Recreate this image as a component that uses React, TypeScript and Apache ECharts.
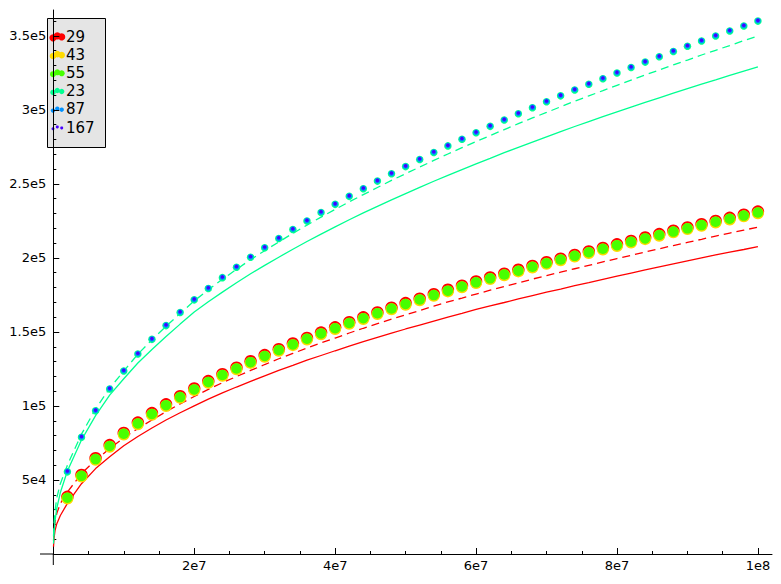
import React, { useEffect, useRef } from 'react';
import * as echarts from 'echarts';

// ---------- data ----------
const seriesNames = ['29', '43', '55', '23', '87', '167'];
const seriesColors = ['#ff0000', '#ffda00', '#48ff00', '#00ff91', '#0091ff', '#4800ff'];

// sample positions (in millions)
const sampleXMillions = [
  2, 4, 6, 8, 10, 12, 14, 16, 18, 20, 22, 24, 26, 28, 30, 32, 34, 36, 38, 40,
  42, 44, 46, 48, 50, 52, 54, 56, 58, 60, 62, 64, 66, 68, 70, 72, 74, 76, 78, 80,
  82, 84, 86, 88, 90, 92, 94, 96, 98, 100,
];

const counts29 = [
  38600, 53400, 64700, 73600, 81800, 88800, 95200, 101100, 106600, 111800,
  116800, 121500, 125900, 130200, 134400, 138400, 142200, 146000, 149600, 153100,
  156600, 159900, 163200, 166400, 169500, 172500, 175500, 178500, 181300, 184100,
  186800, 189400, 192000, 194600, 197100, 199500, 202000, 204400, 206800, 209200,
  211500, 213800, 216100, 218400, 220600, 222800, 225000, 227100, 229200, 231300,
];
const counts43 = [
  37500, 52300, 63600, 72500, 80700, 87700, 94100, 100000, 105500, 110700,
  115700, 120400, 124800, 129100, 133300, 137300, 141100, 144900, 148500, 152000,
  155500, 158800, 162100, 165300, 168400, 171400, 174400, 177400, 180200, 183000,
  185700, 188300, 190900, 193500, 196000, 198400, 200900, 203300, 205700, 208100,
  210400, 212700, 215000, 217300, 219500, 221700, 223900, 226000, 228100, 230200,
];
const counts55 = [
  38000, 52800, 64100, 73000, 81200, 88200, 94600, 100500, 106000, 111200,
  116200, 120900, 125300, 129600, 133800, 137800, 141600, 145400, 149000, 152500,
  156000, 159300, 162600, 165800, 168900, 171900, 174900, 177900, 180700, 183500,
  186200, 188800, 191400, 194000, 196500, 198900, 201400, 203800, 206200, 208600,
  210900, 213200, 215500, 217800, 220000, 222200, 224400, 226500, 228600, 230700,
];
const counts23 = [
  55500, 78900, 96700, 111500, 123600, 135100, 145000, 154300, 163100, 171700,
  179400, 186700, 193700, 200500, 206900, 213100, 219200, 225000, 230700, 236200,
  241600, 246800, 251900, 256900, 261700, 266500, 271200, 275700, 280200, 284600,
  288900, 293200, 297400, 301500, 305500, 309500, 313500, 317300, 321100, 324900,
  328600, 332300, 335900, 339500, 343000, 346500, 349900, 353300, 356700, 360000,
];
const counts87 = [
  55800, 79200, 97000, 111800, 123900, 135400, 145300, 154600, 163400, 172000,
  179700, 187000, 194000, 200800, 207200, 213400, 219500, 225300, 231000, 236500,
  241900, 247100, 252200, 257200, 262000, 266800, 271500, 276000, 280500, 284900,
  289200, 293500, 297700, 301800, 305800, 309800, 313800, 317600, 321400, 325200,
  328900, 332600, 336200, 339800, 343300, 346800, 350200, 353600, 357000, 360300,
];
const counts167 = [
  56000, 79400, 97200, 112000, 124100, 135600, 145500, 154800, 163600, 172200,
  179900, 187200, 194200, 201000, 207400, 213600, 219700, 225500, 231200, 236700,
  242100, 247300, 252400, 257400, 262200, 267000, 271700, 276200, 280700, 285100,
  289400, 293700, 297900, 302000, 306000, 310000, 314000, 317800, 321600, 325400,
  329100, 332800, 336400, 340000, 343500, 347000, 350400, 353800, 357200, 360500,
];

// reference curves (x in millions)
const curveXMillions = [
  0.03, 0.1, 0.25, 0.5, 1,
  2, 4, 6, 8, 10, 12, 14, 16, 18, 20, 22, 24, 26, 28, 30, 32, 34, 36, 38, 40,
  42, 44, 46, 48, 50, 52, 54, 56, 58, 60, 62, 64, 66, 68, 70, 72, 74, 76, 78, 80,
  82, 84, 86, 88, 90, 92, 94, 96, 98, 100,
];
const curve29Solid = [
  5000, 10500, 16000, 20500, 26000,
  34200, 47500, 57700, 65700, 73100, 79400, 85100, 90500, 95400, 100100,
  104600, 108800, 112800, 116600, 120400, 124000, 127400, 130900, 134100, 137300,
  140400, 143400, 146300, 149200, 152000, 154700, 157400, 160100, 162600, 165200,
  167600, 169900, 172300, 174600, 176900, 179000, 181300, 183400, 185600, 187700,
  189800, 191900, 194000, 196000, 198000, 200000, 202000, 203900, 205700, 207600,
];
const curve29Dashed = [
  9000, 15000, 21500, 27500, 34000,
  41800, 54400, 63500, 71200, 78400, 84700, 90500, 96200, 101400, 106400,
  111200, 115700, 119900, 124000, 128000, 131900, 135500, 139100, 142600, 145900,
  149300, 152500, 155600, 158700, 161600, 164500, 167400, 170300, 172900, 175600,
  178200, 180700, 183200, 185700, 188100, 190400, 192700, 195000, 197300, 199600,
  201800, 204000, 206200, 208400, 210500, 212600, 214800, 216800, 218800, 220800,
];
const curve23Solid = [
  7000, 14000, 22500, 31000, 41500,
  56100, 77000, 93500, 107300, 118400, 129000, 138200, 146900, 155300, 163500,
  170400, 176900, 183200, 189300, 195000, 200500, 205900, 211100, 216100, 221000,
  225800, 230400, 234800, 239200, 243500, 247700, 251800, 255800, 259700, 263600,
  267300, 271100, 274700, 278300, 281800, 285300, 288800, 292100, 295400, 298700,
  301900, 305100, 308200, 311300, 314400, 317400, 320300, 323300, 326200, 329000,
];
const curve23Dashed = [
  12000, 20000, 29500, 38000, 47500,
  60000, 81000, 98000, 112000, 123600, 135000, 144700, 153800, 162500, 171000,
  178500, 185600, 192300, 198900, 204900, 210800, 216600, 222200, 227600, 232800,
  237900, 242800, 247600, 252400, 256900, 261400, 265900, 270200, 274500, 278600,
  282700, 286700, 290700, 294600, 298300, 302100, 305900, 309500, 313000, 316600,
  320100, 323600, 327000, 330400, 333700, 337100, 340300, 343500, 346800, 349900,
];

const xTickValues = [20000000, 40000000, 60000000, 80000000, 100000000];
const xTickLabels = ['2e7', '4e7', '6e7', '8e7', '1e8'];
const yTickValues = [50000, 100000, 150000, 200000, 250000, 300000, 350000];
const yTickLabels = ['5e4', '1e5', '1.5e5', '2e5', '2.5e5', '3e5', '3.5e5'];

// ---------- styling ----------
const FONT = 'DejaVu Sans';
const markerSizes = [12.5, 12, 10.5, 7.5, 5.5, 3.5];
const legendDotRadii = [3.6, 3.3, 3.0, 2.7, 2.2, 1.5];

const countSeries = [counts29, counts43, counts55, counts23, counts87, counts167];

const GRID_LEFT = 53.3;
const GRID_TOP = 10;
const GRID_WIDTH = 718.7;
const GRID_HEIGHT = 544;

function pairs(xsMillions: number[], ys: number[]) {
  return xsMillions.map((m, i) => [m * 1e6, ys[i]]);
}

function buildOption() {
  const lineSeries = [
    { data: curve29Solid, color: seriesColors[0], dashed: false },
    { data: curve29Dashed, color: seriesColors[0], dashed: true },
    { data: curve23Solid, color: seriesColors[3], dashed: false },
    { data: curve23Dashed, color: seriesColors[3], dashed: true },
  ].map((c) => ({
    type: 'line',
    data: pairs(curveXMillions, c.data),
    showSymbol: false,
    symbol: 'none',
    smooth: false,
    silent: true,
    z: 1,
    lineStyle: { color: c.color, width: 1.3, type: c.dashed ? [8, 5] : 'solid' },
  }));

  const scatterSeries = seriesNames.map((name, i) => ({
    type: 'scatter',
    name,
    data: pairs(sampleXMillions, countSeries[i]),
    symbol: 'circle',
    symbolSize: markerSizes[i],
    itemStyle: { color: seriesColors[i], opacity: 1 },
    silent: true,
    z: 3,
  }));

  // legend drawn as graphic
  const legendLeft = 47.5;
  const legendTop = 18.5;
  const rowGap = 18.2;
  const firstRow = 36.5;
  const legendChildren: any[] = [
    {
      type: 'rect',
      shape: { x: legendLeft, y: legendTop, width: 58, height: 129 },
      style: { fill: '#e5e5e5', stroke: '#000', lineWidth: 1 },
    },
  ];
  seriesNames.forEach((name, i) => {
    const cy = firstRow + i * rowGap;
    const dx = [53, 57.3, 61.7];
    const dy = [1.3, -0.6, 0.4];
    dx.forEach((x, j) => {
      legendChildren.push({
        type: 'circle',
        shape: { cx: x, cy: cy + dy[j], r: legendDotRadii[i] },
        style: { fill: seriesColors[i] },
      });
    });
    legendChildren.push({
      type: 'text',
      x: 66,
      y: cy,
      style: {
        text: name,
        fill: '#000',
        font: `15px "${FONT}"`,
        align: 'left',
        verticalAlign: 'middle',
      },
    });
  });

  // small axis overhangs past the origin (left of the y axis / below the x axis)
  const axisBottom = GRID_TOP + GRID_HEIGHT;
  const axisExtensions = [
    {
      type: 'line',
      shape: { x1: 40, y1: axisBottom, x2: GRID_LEFT, y2: axisBottom },
      style: { stroke: '#000', lineWidth: 1 },
    },
    {
      type: 'line',
      shape: { x1: GRID_LEFT, y1: axisBottom, x2: GRID_LEFT, y2: 565 },
      style: { stroke: '#000', lineWidth: 1 },
    },
  ];

  const labelFor = (vals: number[], labels: string[]) => (v: number) => {
    const idx = vals.findIndex((t) => Math.abs(t - v) < 1);
    return idx >= 0 ? labels[idx] : '';
  };

  return {
    animation: false,
    backgroundColor: '#ffffff',
    textStyle: { fontFamily: FONT },
    grid: {
      left: GRID_LEFT,
      top: GRID_TOP,
      width: GRID_WIDTH,
      height: GRID_HEIGHT,
      containLabel: false,
      outerBoundsMode: 'none',
    },
    xAxis: {
      type: 'value',
      min: 0,
      max: 102000000,
      minInterval: 20000000,
      maxInterval: 20000000,
      splitNumber: 5,
      axisLine: { show: true, onZero: false, lineStyle: { color: '#000', width: 1 } },
      axisTick: {
        show: true,
        inside: true,
        length: 6,
        customValues: xTickValues,
        lineStyle: { color: '#000', width: 1 },
      },
      minorTick: { show: true, splitNumber: 4, length: 3, lineStyle: { color: '#000', width: 1 } },
      axisLabel: {
        customValues: xTickValues,
        formatter: labelFor(xTickValues, xTickLabels),
        color: '#000',
        fontFamily: FONT,
        fontSize: 13,
        margin: 5,
      },
      splitLine: { show: false },
      minorSplitLine: { show: false },
    },
    yAxis: {
      type: 'value',
      min: 0,
      max: 367500,
      minInterval: 50000,
      maxInterval: 50000,
      splitNumber: 7,
      axisLine: { show: true, onZero: false, lineStyle: { color: '#000', width: 1 } },
      axisTick: {
        show: true,
        inside: true,
        length: 6,
        customValues: yTickValues,
        lineStyle: { color: '#000', width: 1 },
      },
      minorTick: { show: true, splitNumber: 5, length: 3, lineStyle: { color: '#000', width: 1 } },
      axisLabel: {
        customValues: yTickValues,
        formatter: labelFor(yTickValues, yTickLabels),
        color: '#000',
        fontFamily: FONT,
        fontSize: 13,
        margin: 7,
      },
      splitLine: { show: false },
      minorSplitLine: { show: false },
    },
    series: [...lineSeries, ...scatterSeries],
    graphic: [
      { type: 'group', z: 90, children: axisExtensions },
      { type: 'group', z: 100, children: legendChildren },
    ],
  };
}

export default function App() {
  const ref = useRef<HTMLDivElement>(null);
  useEffect(() => {
    if (!ref.current) return;
    const chart = echarts.init(ref.current, null, { renderer: 'svg' });
    chart.setOption(buildOption() as any);
    return () => {
      chart.dispose();
    };
  }, []);
  return (
    <div
      ref={ref}
      style={{ position: 'absolute', left: 0, top: 0, width: 781, height: 584, background: '#fff' }}
    />
  );
}
